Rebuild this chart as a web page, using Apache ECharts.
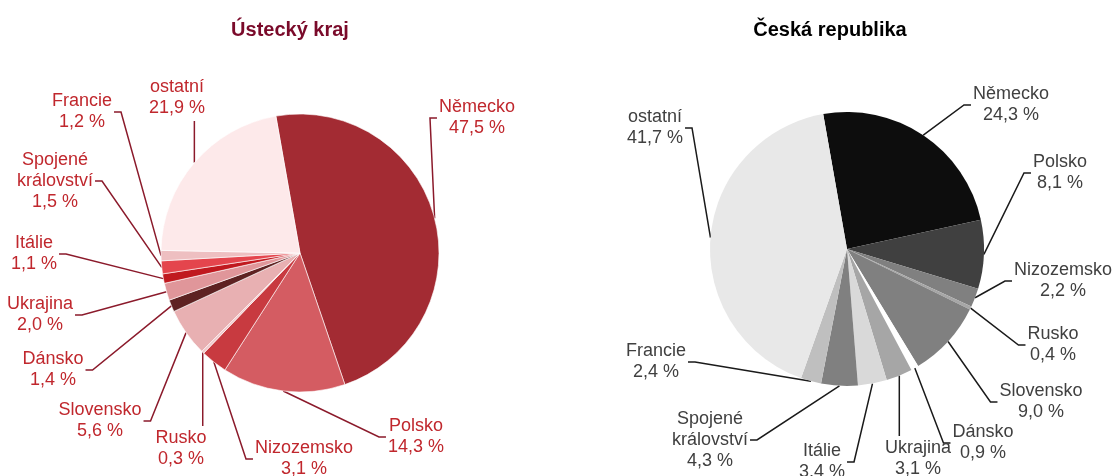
<!DOCTYPE html>
<html>
<head>
<meta charset="utf-8">
<script src="https://cdn.jsdelivr.net/npm/echarts@6/dist/echarts.min.js"></script>
<style>
  html, body { margin: 0; padding: 0; background: #fff; }
  #chart { width: 1115px; height: 476px; }
</style>
</head>
<body>
<div id="chart"></div>
<script>
const countries = ['Německo', 'Polsko', 'Nizozemsko', 'Rusko', 'Slovensko', 'Dánsko',
  'Ukrajina', 'Itálie', 'Spojené\nkrálovství', 'Francie', 'ostatní'];
const usteckyValues = [47.5, 14.3, 3.1, 0.3, 5.6, 1.4, 2.0, 1.1, 1.5, 1.2, 21.9];
const czValues = [24.3, 8.1, 2.2, 0.4, 9.0, 0.9, 3.1, 3.4, 4.3, 2.4, 41.7];

const redColors = ['#a32b33', '#d45c62', '#c83a40', '#f0c8ca', '#e8b0b2', '#5e2222',
  '#e0969a', '#c0191f', '#e4454d', '#eebfc1', '#fde9ea'];
const greyColors = ['#0d0d0d', '#404040', '#808080', '#a6a6a6', '#808080', '#ffffff',
  '#a6a6a6', '#d9d9d9', '#808080', '#bfbfbf', '#e8e8e8'];

// label block centres (layout only)
const leftLabelPos = [[477, 118], [416, 437], [304, 459], [181, 449], [100, 421], [53, 370],
  [40, 315], [34, 254], [55, 181], [82, 112], [177, 98]];
const rightLabelPos = [[1011, 105], [1060, 173], [1063, 281], [1053, 345], [1041, 402], [983, 443],
  [918, 459], [822, 462], [710, 440], [656, 362], [655, 128]];

const START = 100;
const fmt = (p) => p.name + '\n' + p.value.toFixed(1).replace('.', ',') + ' %';

// Excel-style leader: from the arc at the slice's mid angle to a short stub beside the label
function leaderPoints(values, idx, center, radius, rect) {
  const total = values.reduce((a, b) => a + b, 0);
  let before = 0;
  for (let i = 0; i < idx; i++) before += values[i];
  const mid = (before + values[idx] / 2) / total;
  const ang = (START - mid * 360) * Math.PI / 180;
  const ax = center[0] + radius * Math.cos(ang);
  const ay = center[1] - radius * Math.sin(ang);
  const cy = rect.y + rect.height / 2;
  if (ax < rect.x - 3) {
    const px = rect.x - 2;
    return [[ax, ay], [px - 7, cy], [px, cy]];
  }
  if (ax > rect.x + rect.width + 3) {
    const px = rect.x + rect.width + 2;
    return [[ax, ay], [px + 7, cy], [px, cy]];
  }
  const py = ay < rect.y ? rect.y - 2 : rect.y + rect.height + 2;
  return [[ax, ay], [ax, (ay + py) / 2], [ax, py]];
}

function makePie(values, colors, center, radius, labelPos, textColor, lineColor, border) {
  return {
    type: 'pie',
    center: center,
    radius: radius,
    startAngle: START,
    clockwise: true,
    avoidLabelOverlap: false,
    animation: false,
    itemStyle: { borderColor: '#fff', borderWidth: border },
    label: {
      show: true,
      position: 'outside',
      formatter: fmt,
      color: textColor,
      fontFamily: 'Liberation Sans, Arial, sans-serif',
      fontSize: 18,
      lineHeight: 21,
      align: 'center'
    },
    labelLine: {
      show: true,
      length: 10,
      length2: 7,
      smooth: false,
      lineStyle: { color: lineColor, width: 1.5 }
    },
    labelLayout: (params) => {
      const pos = labelPos[params.dataIndex];
      const w = params.labelRect.width;
      const h = params.labelRect.height;
      const rect = { x: pos[0] - w / 2, y: pos[1] - h / 2, width: w, height: h };
      return {
        x: pos[0], y: pos[1], align: 'center', verticalAlign: 'middle',
        labelLinePoints: leaderPoints(values, params.dataIndex, center, radius, rect)
      };
    },
    emphasis: { disabled: true },
    data: values.map((v, i) => ({
      name: countries[i],
      value: v,
      itemStyle: { color: colors[i] }
    }))
  };
}

const chart = echarts.init(document.getElementById('chart'), null, { renderer: 'canvas' });
chart.setOption({
  backgroundColor: '#fff',
  animation: false,
  title: [
    {
      text: 'Ústecký kraj',
      left: 285, top: 15, textAlign: 'center',
      textStyle: { color: '#7a0a2a', fontSize: 20, fontWeight: 'bold', fontFamily: 'Liberation Sans, Arial, sans-serif' }
    },
    {
      text: 'Česká republika',
      left: 825, top: 15, textAlign: 'center',
      textStyle: { color: '#000', fontSize: 20, fontWeight: 'bold', fontFamily: 'Liberation Sans, Arial, sans-serif' }
    }
  ],
  series: [
    makePie(usteckyValues, redColors, [300, 253], 139, leftLabelPos, '#c0272d', '#8b1a2b', 0.6),
    makePie(czValues, greyColors, [847, 249], 137, rightLabelPos, '#404040', '#1a1a1a', 0)
  ]
});
</script>
</body>
</html>
